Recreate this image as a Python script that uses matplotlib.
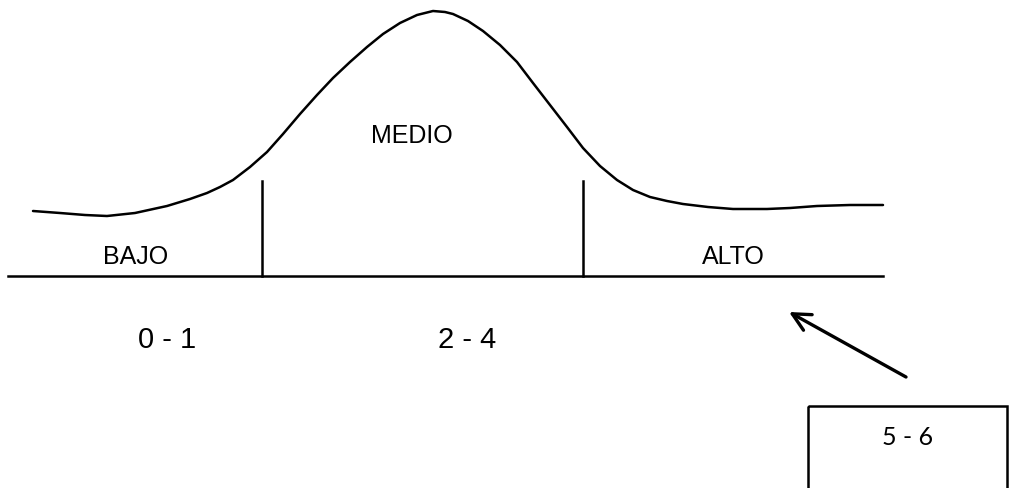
import matplotlib.pyplot as plt
from matplotlib.patches import Rectangle

# bandas y rangos de puntaje
band_names = ['BAJO', 'MEDIO', 'ALTO']
band_ranges = ['0 - 1', '2 - 4', '5 - 6']

# puntos (x, altura en coordenadas de la imagen)
curve_x = [33, 60, 85, 107, 135, 167, 190, 207, 220, 233, 250, 267, 283, 300,
           317, 333, 350, 367, 383, 400, 417, 433, 445, 453, 468, 483, 500,
           517, 533, 550, 567, 583, 600, 617, 633, 650, 667, 683, 708, 733,
           767, 790, 817, 850, 883]
curve_y = [212, 214, 216, 217, 214, 207, 200, 194, 188, 181, 168, 153, 135, 115,
           96, 79, 63, 48, 35, 24, 16, 12, 13, 15, 22, 32, 46,
           63, 84, 106, 128, 149, 167, 181, 191, 198, 202, 205, 208, 210,
           210, 209, 207, 206, 206]

# limites entre bandas sobre el eje
cut_x = [262, 583]

W, H = 1009, 489
fig = plt.figure(figsize=(W / 100, H / 100), dpi=100)
ax = fig.add_axes([0, 0, 1, 1])
ax.set_xlim(0, W)
ax.set_ylim(H, 0)
ax.axis('off')

lw = 1.8
ax.plot(curve_x, curve_y, color='black', lw=lw, solid_capstyle='round',
        solid_joinstyle='round')
ax.plot([8, 883], [277, 277], color='black', lw=lw)
for cx in cut_x:
    ax.plot([cx, cx], [182, 277], color='black', lw=lw)

font = 'Liberation Sans'
# nombres de las bandas
name_pos = [(136, 264), (412, 143), (733, 264)]
for name, (x, y) in zip(band_names, name_pos):
    ax.text(x, y, name, ha='center', va='baseline', fontsize=18, family=font)

# rangos
range_pos = [(167, 348), (467, 348)]
for rng, (x, y) in zip(band_ranges[:2], range_pos):
    ax.text(x, y, rng, ha='center', va='baseline', fontsize=21, family=font)

# recuadro del rango alto y la flecha
ax.add_patch(Rectangle((808, 407), 199, 120, fill=False, ec='black', lw=lw))
ax.text(908, 445, band_ranges[2], ha='center', va='baseline', fontsize=18,
        family='Lato')
ax.annotate('', xy=(789, 313), xytext=(906, 378),
            arrowprops=dict(arrowstyle='->', color='black', lw=2.4,
                            mutation_scale=32, shrinkA=0, shrinkB=0))

fig.savefig('out.png', dpi=100)
